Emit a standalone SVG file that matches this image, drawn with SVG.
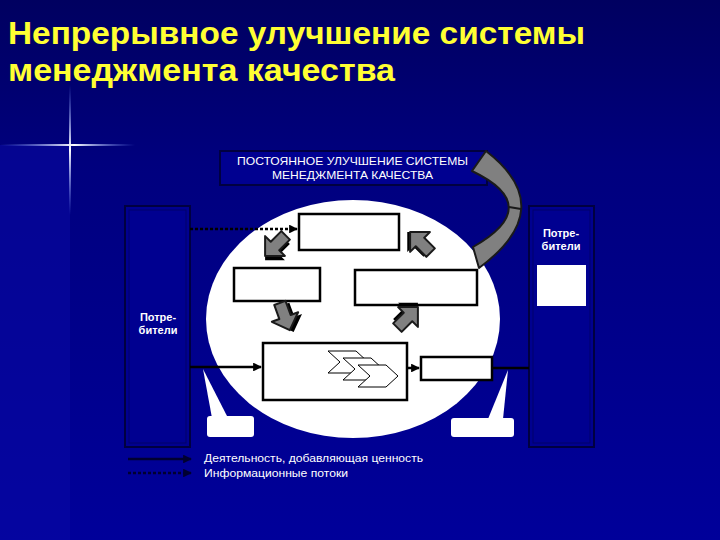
<svg xmlns="http://www.w3.org/2000/svg" width="720" height="540" viewBox="0 0 720 540">
<defs>
<linearGradient id="bg" x1="0" y1="0" x2="0" y2="1">
<stop offset="0" stop-color="#000060"/>
<stop offset="0.3" stop-color="#00007e"/>
<stop offset="1" stop-color="#00009a"/>
</linearGradient>
<linearGradient id="fv" x1="0" y1="0" x2="0" y2="1">
<stop offset="0" stop-color="#6f8fff" stop-opacity="0"/>
<stop offset="0.5" stop-color="#ffffff" stop-opacity="1"/>
<stop offset="1" stop-color="#6f8fff" stop-opacity="0"/>
</linearGradient>
<linearGradient id="fh" x1="0" y1="0" x2="1" y2="0">
<stop offset="0" stop-color="#6f8fff" stop-opacity="0"/>
<stop offset="0.55" stop-color="#ffffff" stop-opacity="1"/>
<stop offset="1" stop-color="#6f8fff" stop-opacity="0"/>
</linearGradient>
<marker id="ah" viewBox="0 0 10 10" refX="9" refY="5" markerWidth="3.5" markerHeight="3.5" orient="auto" markerUnits="strokeWidth">
<path d="M0,0 L10,5 L0,10 Z" fill="#000"/>
</marker>
<marker id="ahd" viewBox="0 0 10 10" refX="9" refY="5" markerWidth="3.5" markerHeight="3.5" orient="auto" markerUnits="strokeWidth">
<path d="M0,0 L10,5 L0,10 Z" fill="#000030"/>
</marker>
<path id="blk" d="M-6,-15 L6,-15 L6,0 L14,0 L0,14 L-14,0 L-6,0 Z"/>
<path id="chev" d="M0,0 H28 L40,11 L28,22 H0 L12,11 Z"/>
</defs>
<style>
.title{font-family:"Liberation Sans",Arial,sans-serif;font-weight:bold;font-size:32px;fill:#ffff33}
.lbl{font-family:"Liberation Sans",Arial,sans-serif;fill:#fff}
.cust{font-family:"Liberation Sans",Arial,sans-serif;font-weight:bold;font-size:11px;fill:#fff;text-anchor:middle}
.box{fill:#fff;stroke:#000;stroke-width:2.5}
.cbox{fill:#000090;stroke:#000040;stroke-width:2}
.ga{fill:#808080;stroke:#1a1a1a;stroke-width:2;stroke-linejoin:round}
.sh{fill:#000}
.chev{fill:#fff;stroke:#000;stroke-width:1}
.flow{stroke:#000;stroke-width:2.5;fill:none}
</style>
<rect width="720" height="540" fill="url(#bg)"/>
<rect x="0" y="145" width="70" height="395" fill="#0a0aa6" opacity="0.5"/>
<rect x="69" y="85" width="2" height="130" fill="url(#fv)"/>
<rect x="0" y="144" width="135" height="2" fill="url(#fh)"/>

<text class="title" x="8" y="44" textLength="577" lengthAdjust="spacingAndGlyphs">Непрерывное улучшение системы</text>
<text class="title" x="8" y="81" textLength="387" lengthAdjust="spacingAndGlyphs">менеджмента качества</text>

<g id="top-box">
<rect x="220" y="151" width="267" height="34" fill="#000090" stroke="#000040" stroke-width="2"/>
<text class="lbl" font-size="11" x="237" y="165" textLength="231" lengthAdjust="spacingAndGlyphs">ПОСТОЯННОЕ УЛУЧШЕНИЕ СИСТЕМЫ</text>
<text class="lbl" font-size="11" x="272" y="179" textLength="161" lengthAdjust="spacingAndGlyphs">МЕНЕДЖМЕНТА КАЧЕСТВА</text>
</g>

<g id="customers-left">
<rect class="cbox" x="125" y="206" width="65" height="241"/>
<rect x="129" y="210" width="57" height="233" fill="none" stroke="#00006a" stroke-width="1"/>
<text class="cust" x="158" y="321">Потре-</text>
<text class="cust" x="158" y="334">бители</text>
</g>

<g id="customers-right">
<rect class="cbox" x="529" y="206" width="65" height="241"/>
<rect x="533" y="210" width="57" height="233" fill="none" stroke="#00006a" stroke-width="1"/>
<text class="cust" x="561" y="237">Потре-</text>
<text class="cust" x="561" y="250">бители</text>
<rect x="537" y="265" width="49" height="41" fill="#fff"/>
</g>

<g id="system">
<ellipse cx="353" cy="319" rx="147" ry="119" fill="#fff"/>
</g>

<g id="curved-arrow">
<path class="ga" d="M486,151 Q560,208 479,268 L473,247 Q545,206 472,171 Z"/>
<path d="M509,207 L521,209" stroke="#1a1a1a" stroke-width="2"/>
</g>

<g id="management"><rect class="box" x="299" y="214" width="100" height="36"/></g>
<g id="resources"><rect class="box" x="234" y="268" width="86" height="33"/></g>
<g id="measurement"><rect class="box" x="355" y="270" width="122" height="35"/></g>
<g id="realization">
<rect class="box" x="263" y="343" width="144" height="57"/>
<use href="#chev" class="chev" x="328" y="351"/>
<use href="#chev" class="chev" x="343" y="358"/>
<use href="#chev" class="chev" x="358" y="365"/>
</g>
<g id="product"><rect class="box" x="421" y="357" width="71" height="23"/></g>

<g id="callout-left">
<path d="M203,369 L228,418 L212,418 Z" fill="#fff"/>
<rect x="207" y="416" width="47" height="21" rx="3" fill="#fff"/>
</g>
<g id="callout-right">
<path d="M508,370 L503,419 L488,419 Z" fill="#fff"/>
<rect x="451" y="418" width="63" height="19" rx="3" fill="#fff"/>
</g>

<g id="cycle-arrows">
<g transform="translate(275,246) rotate(45)"><use href="#blk" class="sh" x="3" y="3"/><use href="#blk" class="ga"/></g>
<g transform="translate(285,317) rotate(-20)"><use href="#blk" class="sh" x="3" y="3"/><use href="#blk" class="ga"/></g>
<g transform="translate(408,317) rotate(-135)"><use href="#blk" class="sh" x="3" y="3"/><use href="#blk" class="ga"/></g>
<g transform="translate(420,242) rotate(135)"><use href="#blk" class="sh" x="2" y="2"/><use href="#blk" class="ga"/></g>
</g>

<g id="connectors">
<line class="flow" x1="190" y1="229" x2="297" y2="229" stroke-dasharray="3 2" marker-end="url(#ah)"/>
<line class="flow" x1="190" y1="367" x2="261" y2="367" marker-end="url(#ah)"/>
<line class="flow" x1="407" y1="368" x2="419" y2="368" marker-end="url(#ah)"/>
<line class="flow" x1="492" y1="368" x2="529" y2="368"/>
<line x1="128" y1="459" x2="191" y2="459" stroke="#000030" stroke-width="2.5" marker-end="url(#ahd)"/>
<line x1="128" y1="473" x2="191" y2="473" stroke="#000030" stroke-width="2.5" stroke-dasharray="3 2" marker-end="url(#ahd)"/>
</g>

<g id="legend">
<text class="lbl" font-size="10.5" x="204" y="462" textLength="219" lengthAdjust="spacingAndGlyphs">Деятельность, добавляющая ценность</text>
<text class="lbl" font-size="10.5" x="204" y="477" textLength="144" lengthAdjust="spacingAndGlyphs">Информационные потоки</text>
</g>
</svg>
